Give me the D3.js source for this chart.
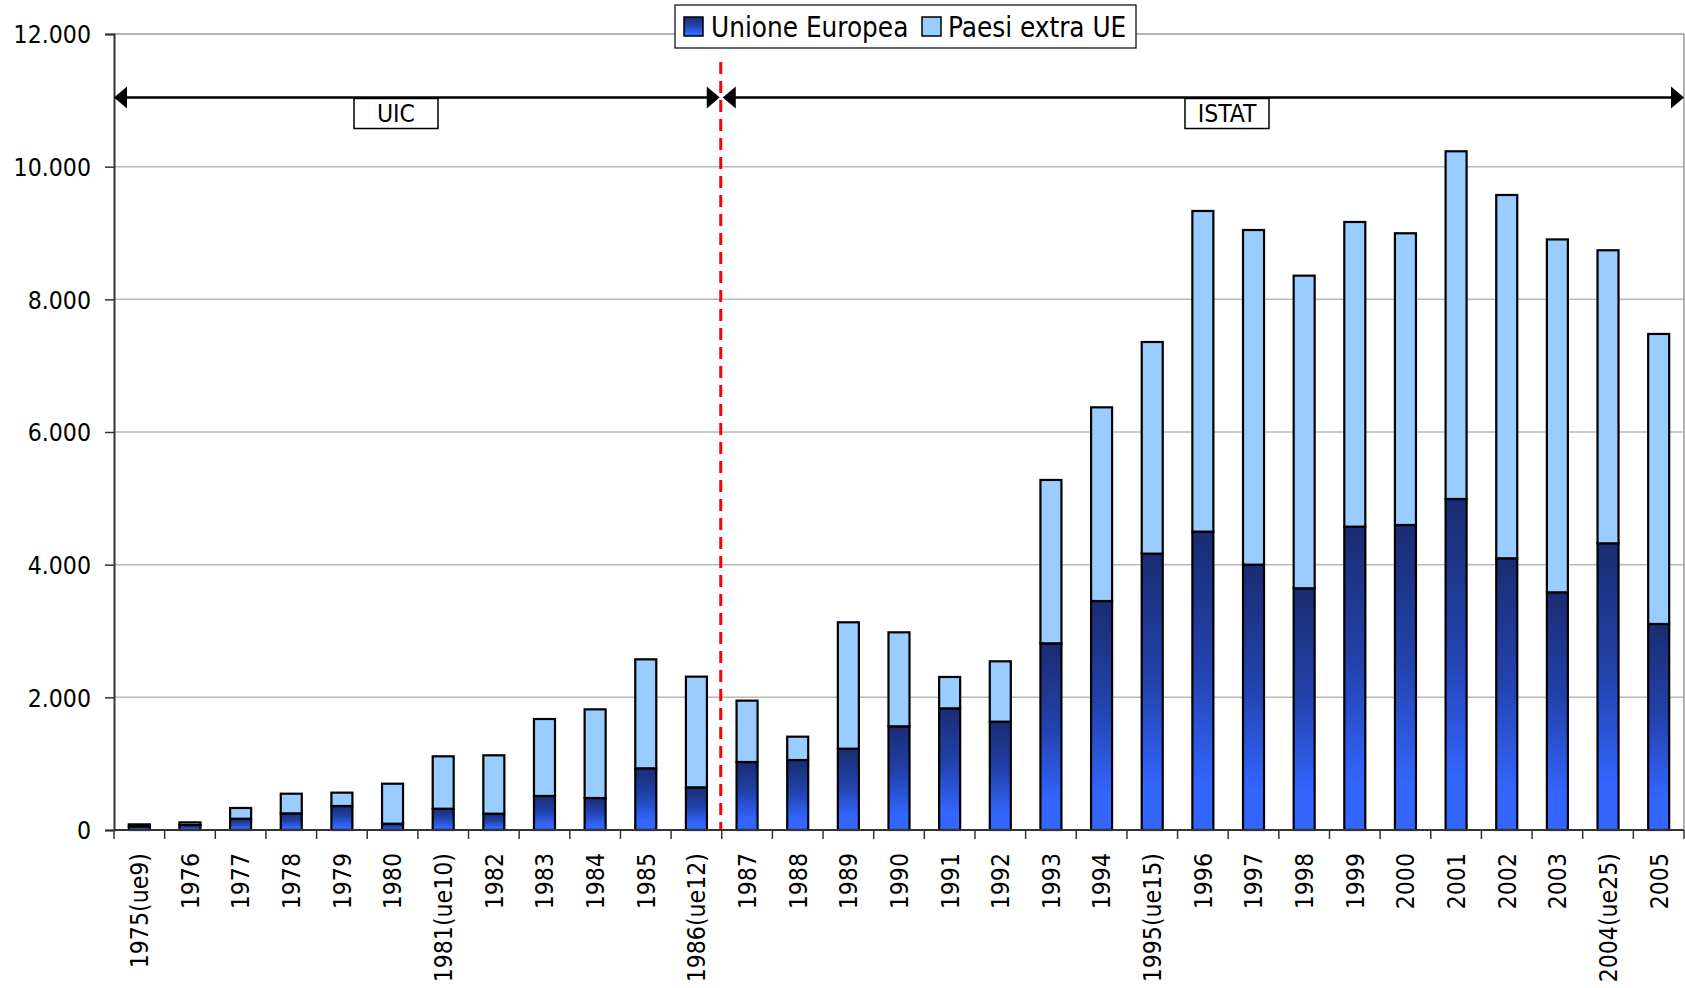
<!DOCTYPE html>
<html>
<head>
<meta charset="utf-8">
<script src="https://cdn.jsdelivr.net/npm/d3@7"></script>
<style>
  html, body { margin: 0; padding: 0; background: #fff; }
  svg { display: block; }
  text { font-family: "DejaVu Sans Condensed", "DejaVu Sans", sans-serif; fill: #000; }
</style>
</head>
<body>
<svg id="chart" width="1685" height="988"></svg>
<script>
// Categories (years, with EU enlargement markers)
const categories = [
  "1975(ue9)", "1976", "1977", "1978", "1979", "1980", "1981(ue10)", "1982",
  "1983", "1984", "1985", "1986(ue12)", "1987", "1988", "1989", "1990",
  "1991", "1992", "1993", "1994", "1995(ue15)", "1996", "1997", "1998",
  "1999", "2000", "2001", "2002", "2003", "2004(ue25)", "2005"
];

// Series values
const unioneEuropea = [
  55, 75, 170, 251, 362, 95, 321, 246,
  513, 482, 930, 643, 1025, 1055, 1226, 1563,
  1834, 1633, 2814, 3452, 4166, 4498, 4000, 3644,
  4573, 4598, 4990, 4096, 3583, 4322, 3106
];
const paesiExtraUE = [
  30, 40, 162, 296, 201, 603, 790, 880,
  1160, 1337, 1643, 1669, 925, 352, 1905, 1417,
  473, 910, 2463, 2920, 3191, 4834, 5045, 4713,
  4593, 4398, 5242, 5477, 5320, 4418, 4372
];

const seriesNames = ["Unione Europea", "Paesi extra UE"];
const yTicks = [0, 2000, 4000, 6000, 8000, 10000, 12000];

// Data-source periods shown above the bars
const periods = [
  { label: "UIC",   from: "1975(ue9)", to: "1986(ue12)" },
  { label: "ISTAT", from: "1987",      to: "2005" }
];
const sourceBreak = "1987";

// ---- layout ----
const svg = d3.select("#chart");
const plotLeft = 114, plotRight = 1684, plotTop = 34, plotBottom = 830;
const axisFont = 24.6;

const x = d3.scaleBand().domain(categories).range([plotLeft, plotRight])
  .paddingInner(0.585).paddingOuter(0.2925);
const y = d3.scaleLinear().domain([0, 12000]).range([plotBottom, plotTop]);

const itLocale = d3.formatLocale({ decimal: ",", thousands: ".", grouping: [3], currency: ["€", ""] });
const fmt = itLocale.format(",");

const bandStart = c => x(c) - (x.step() - x.bandwidth()) / 2;

// gradient for EU segments
const defs = svg.append("defs");
const grad = defs.append("linearGradient").attr("id", "euGrad")
  .attr("x1", 0).attr("y1", 0).attr("x2", 0).attr("y2", 1);
grad.append("stop").attr("offset", "0%").attr("stop-color", "#1a2c72");
grad.append("stop").attr("offset", "45%").attr("stop-color", "#2242ac");
grad.append("stop").attr("offset", "85%").attr("stop-color", "#3366ff");
grad.append("stop").attr("offset", "100%").attr("stop-color", "#3366ff");

// gridlines
svg.append("g").selectAll("line").data(yTicks.filter(d => d > 0)).join("line")
  .attr("x1", plotLeft).attr("x2", plotRight)
  .attr("y1", d => y(d)).attr("y2", d => y(d))
  .attr("stroke", d => d === 12000 ? "#9a9a9a" : "#b8b8b8")
  .attr("stroke-width", 1.5);
// right border of plot area
svg.append("line").attr("x1", plotRight).attr("x2", plotRight).attr("y1", plotTop).attr("y2", plotBottom)
  .attr("stroke", "#9a9a9a").attr("stroke-width", 1.5);

// stacked bars
const rows = categories.map((c, i) => ({ c, eu: unioneEuropea[i], extra: paesiExtraUE[i] }));
const stack = d3.stack().keys(["eu", "extra"])(rows);
const fills = { eu: "url(#euGrad)", extra: "#99ccff" };

svg.append("g").selectAll("g").data(stack).join("g")
  .attr("fill", s => fills[s.key])
  .selectAll("rect").data(s => s).join("rect")
  .attr("x", d => x(d.data.c))
  .attr("width", x.bandwidth())
  .attr("y", d => y(d[1]))
  .attr("height", d => y(d[0]) - y(d[1]))
  .attr("stroke", "#000").attr("stroke-width", 2.2);

// dashed separator between data sources
const breakX = bandStart(sourceBreak) - 1;
svg.append("line").attr("x1", breakX).attr("x2", breakX).attr("y1", 62).attr("y2", plotBottom)
  .attr("stroke", "#ff0000").attr("stroke-width", 3).attr("stroke-dasharray", "12,7");

// y axis
const yAxis = svg.append("g").attr("transform", `translate(${plotLeft},0)`)
  .call(d3.axisLeft(y).tickValues(yTicks).tickFormat(fmt).tickSize(9).tickPadding(14));
yAxis.select(".domain").attr("stroke", "#333").attr("stroke-width", 2);
yAxis.selectAll(".tick line").attr("stroke", "#333").attr("stroke-width", 1.5);
yAxis.selectAll(".tick text").attr("font-size", axisFont)
  .attr("font-family", "DejaVu Sans Condensed").attr("fill", "#000").attr("dy", "0.36em");

// x axis line and ticks at band boundaries
const xg = svg.append("g");
xg.append("line").attr("x1", plotLeft).attr("x2", plotRight).attr("y1", plotBottom).attr("y2", plotBottom)
  .attr("stroke", "#333").attr("stroke-width", 2);
const boundaries = d3.range(categories.length + 1).map(i => plotLeft + i * x.step());
xg.selectAll("line.tk").data(boundaries).join("line").attr("class", "tk")
  .attr("x1", d => d).attr("x2", d => d).attr("y1", plotBottom).attr("y2", plotBottom + 9)
  .attr("stroke", "#333").attr("stroke-width", 1.5);
xg.selectAll("text").data(categories).join("text")
  .attr("transform", d => `translate(${x(d) + x.bandwidth() / 2},${plotBottom + 23}) rotate(-90)`)
  .attr("text-anchor", "end").attr("dy", "0.36em")
  .attr("font-size", axisFont)
  .text(d => d);

// period arrows with labels
const arrowY = 97.5, headL = 13, headH = 11;
const labelBoxes = { "UIC": 354, "ISTAT": 1185 };
periods.forEach((p, i) => {
  const x0 = i === 0 ? plotLeft : bandStart(p.from) + 1;
  const x1 = i === 0 ? bandStart(sourceBreak) - 2 : plotRight;
  const g = svg.append("g");
  g.append("line").attr("x1", x0 + 6).attr("x2", x1 - 6).attr("y1", arrowY).attr("y2", arrowY)
    .attr("stroke", "#000").attr("stroke-width", 2.5);
  g.append("path").attr("d", `M${x0},${arrowY}L${x0 + headL},${arrowY - headH}L${x0 + headL},${arrowY + headH}Z`).attr("fill", "#000");
  g.append("path").attr("d", `M${x1},${arrowY}L${x1 - headL},${arrowY - headH}L${x1 - headL},${arrowY + headH}Z`).attr("fill", "#000");
  const bx = labelBoxes[p.label], bw = 84, bh = 30;
  g.append("rect").attr("x", bx).attr("y", arrowY + 1).attr("width", bw).attr("height", bh)
    .attr("fill", "#fff").attr("stroke", "#000").attr("stroke-width", 1.5);
  g.append("text").attr("x", bx + bw / 2).attr("y", arrowY + 1 + bh / 2).attr("dy", "0.36em")
    .attr("text-anchor", "middle").attr("font-size", 24.5).text(p.label);
});

// legend
const lg = svg.append("g");
lg.append("rect").attr("x", 675).attr("y", 5).attr("width", 461).attr("height", 43)
  .attr("fill", "#fff").attr("stroke", "#000").attr("stroke-width", 1.2);
const legendItems = [
  { name: seriesNames[0], fill: fills.eu, sx: 684, tx: 711 },
  { name: seriesNames[1], fill: fills.extra, sx: 922, tx: 948 }
];
legendItems.forEach(item => {
  lg.append("rect").attr("x", item.sx).attr("y", 17).attr("width", 19).attr("height", 19)
    .attr("fill", item.fill).attr("stroke", "#000").attr("stroke-width", 1.5);
  lg.append("text").attr("x", item.tx).attr("y", 27).attr("dy", "0.36em")
    .attr("font-size", 27.6).text(item.name);
});
</script>
</body>
</html>
